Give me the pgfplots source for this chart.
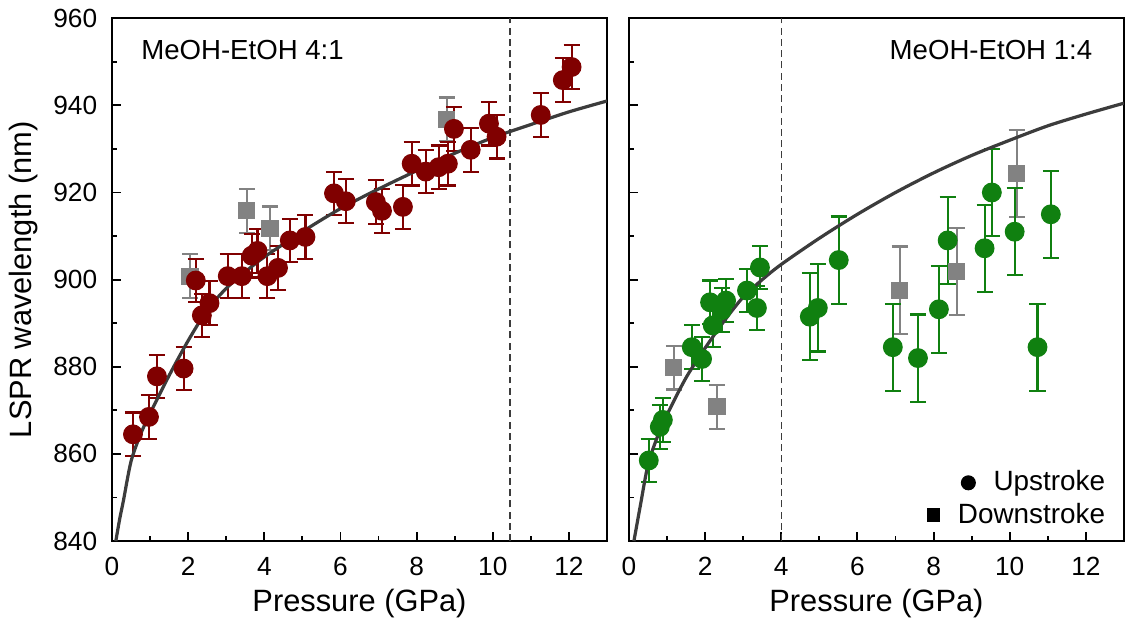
\documentclass[border=0pt]{standalone}
\usepackage{fontspec}
\setmainfont{Liberation Sans}
\usepackage{pgfplots}
\pgfplotsset{compat=1.18}
\usepackage{pgfplotstable}

\definecolor{upred}{RGB}{128,0,0}
\definecolor{upgreen}{RGB}{16,128,16}
\definecolor{downgray}{RGB}{130,130,130}
\definecolor{fitgray}{RGB}{60,60,60}

% MeOH-EtOH 4:1, upstroke
\pgfplotstableread{
p     l      e
0.55  864.5  5
0.97  868.5  5
1.18  877.8  5
1.88  879.6  5
2.20  899.8  5
2.36  891.8  5
2.56  894.6  5
3.04  900.8  5
3.41  900.8  5
3.67  905.5  5
3.82  906.6  5
4.08  900.8  5
4.36  902.7  5
4.67  909.0  5
5.08  909.8  5
5.83  919.8  5
6.14  918.0  5
6.93  917.8  5
7.09  915.8  5
7.64  916.7  5
7.87  926.6  5
8.24  924.8  5
8.58  925.8  5
8.82  926.6  5
8.98  934.6  5
9.42  929.8  5
9.90  935.8  5
10.10 932.8  5
11.26 937.8  5
11.84 945.8  5
12.07 948.8  5
}\upA
% MeOH-EtOH 4:1, downstroke
\pgfplotstableread{
p     l      e
2.05  900.8  5
3.54  915.8  5
4.15  911.8  5
8.79  936.8  5
}\downA
% MeOH-EtOH 4:1, fit
\pgfplotstableread{
p     l
0.10  840.0
0.20  845.0
0.30  849.3
0.50  858.3
0.75  864.5
1.00  869.3
1.50  878.0
2.00  886.0
2.50  893.0
3.00  898.0
3.50  901.8
4.00  905.2
5.00  911.0
6.00  916.3
7.00  920.8
8.00  925.0
9.00  929.0
10.00 932.6
11.00 935.6
12.00 938.5
13.00 941.0
}\fitA

% MeOH-EtOH 1:4, upstroke
\pgfplotstableread{
p     l      e
0.52  858.5  5
0.81  866.2  5
0.89  867.8  5
1.65  884.5  5
1.92  881.8  5
2.13  894.8  5
2.20  889.5  5
2.44  893.0  5
2.55  895.2  5
3.10  897.5  5
3.36  893.5  5
3.44  902.8  5
4.75  891.5  10
4.96  893.5  10
5.51  904.5  10
6.93  884.5  10
7.59  882.0  10
8.14  893.2  10
8.37  909.0  10
9.34  907.2  10
9.53  920.0  10
10.13 911.0  10
10.73 884.5  10
11.08 915.0  10
}\upB
% MeOH-EtOH 1:4, downstroke
\pgfplotstableread{
p     l      e
1.18  879.8  5
2.31  870.8  5
7.11  897.6  10
8.61  901.8  10
10.18 924.3  10
}\downB
% MeOH-EtOH 1:4, fit
\pgfplotstableread{
p     l
0.13  840.0
0.30  848.2
0.50  857.5
0.75  864.0
1.00  869.0
1.50  877.5
2.00  884.3
2.50  890.5
3.00  896.0
3.50  900.0
4.00  903.5
5.00  909.5
6.00  915.0
7.00  920.0
8.00  924.5
9.00  928.5
10.00 932.0
11.00 935.3
12.00 938.0
13.00 940.5
}\fitB

\pgfplotsset{
  panel/.style={
    scale only axis, width=184.7pt, height=195.1pt,
    xmin=0, xmax=13, ymin=840, ymax=960,
    xtick={0,2,...,12}, ytick={840,860,...,960},
    minor x tick num=1, minor y tick num=1,
    xtick pos=bottom, ytick pos=left,
    tick align=inside,
    major tick length=3.5pt, minor tick length=2pt,
    every tick/.style={black, line width=0.7pt},
    axis line style={black, line width=0.8pt},
    /pgf/number format/assume math mode=true,
    ticklabel style={font=\fontsize{9.8}{11}\selectfont},
    xticklabel style={yshift=-2.5pt},
    yticklabel style={xshift=-2pt},
    label style={font=\fontsize{11.5}{13}\selectfont},
    xlabel={Pressure (GPa)},
    xlabel style={yshift=2pt},
  },
  ebars/.style={
    error bars/y dir=both, error bars/y explicit,
    error bars/error bar style={line width=0.8pt},
    error bars/error mark options={rotate=90, mark size=3pt, line width=0.8pt}},
  up/.style={only marks, mark=*, mark size=3.5pt, color=#1, ebars},
  down/.style={only marks, mark=square*, mark size=3pt, color=downgray, ebars},
  fit/.style={fitgray, line width=1.2pt, smooth},
  vline/.style={fitgray, line width=0.5pt, dash pattern=on 2.6pt off 1.6pt},
}

\begin{document}
\begin{tikzpicture}
\begin{axis}[panel,
    ylabel={LSPR wavelength (nm)},
    ylabel style={yshift=-1pt}]
  \addplot[vline] coordinates {(10.45,840) (10.45,960)};
  \addplot[down] table[x=p, y=l, y error=e] {\downA};
  \addplot[up=upred] table[x=p, y=l, y error=e] {\upA};
  \addplot[fit] table[x=p, y=l] {\fitA};
  \node[anchor=west, font=\fontsize{10.3}{12}\selectfont]
    at (rel axis cs:0.04,0.94) {MeOH-EtOH 4:1};
\end{axis}

\begin{axis}[panel, at={(192.9pt,0)},
    yticklabels={},
    legend style={at={(0.99,0.005)}, anchor=south east, draw=none, fill=none,
      font=\fontsize{10.4}{12}\selectfont, row sep=-1pt,
      /tikz/every odd column/.append style={column sep=4.5pt}},
    legend cell align=right]
  \addplot[forget plot, vline] coordinates {(4,840) (4,960)};
  \addplot[forget plot, down] table[x=p, y=l, y error=e] {\downB};
  \addplot[forget plot, up=upgreen] table[x=p, y=l, y error=e] {\upB};
  \addplot[forget plot, fit] table[x=p, y=l] {\fitB};
  \node[anchor=east, font=\fontsize{10.3}{12}\selectfont]
    at (rel axis cs:0.955,0.94) {MeOH-EtOH 1:4};
  \addlegendimage{legend image code/.code={\fill[black, overlay] (13pt,0pt) circle (2.6pt);}}
  \addlegendentry{Upstroke}
  \addlegendimage{legend image code/.code={\fill[black] (-2.4pt,-2.4pt) rectangle (2.4pt,2.4pt);}}
  \addlegendentry{Downstroke}
\end{axis}
\end{tikzpicture}
\end{document}
